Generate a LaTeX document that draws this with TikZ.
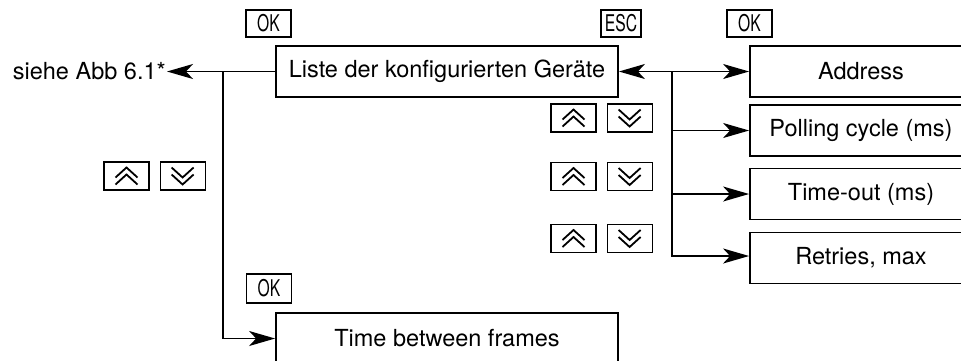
\documentclass[tikz,border=0pt]{standalone}
\usepackage{fontspec}
\setmainfont{TeX Gyre Heros}
\newfontfamily\keyfont[FakeStretch=0.68]{TeX Gyre Heros}
\usetikzlibrary{positioning}
\usetikzlibrary{arrows.meta}
\tikzstyle{menu}=[draw, line width=1.8pt, minimum height=51pt, inner sep=0pt, font=\fontsize{23.5}{28}\selectfont]
\tikzstyle{wide}=[menu, minimum width=342pt]
\tikzstyle{param}=[menu, minimum width=222pt]
\tikzstyle{key}=[draw, line width=1.1pt, minimum height=27pt, minimum width=45pt, inner sep=0pt, font=\keyfont\fontsize{23}{26}\selectfont]
\tikzstyle{keyup}=[key, minimum height=28pt, path picture={
    \draw[shift={(path picture bounding box.center)}, line width=1.8pt]
      (-11pt,-1.5pt) -- (0pt,8.5pt) -- (11pt,-1.5pt) (-11pt,-8.5pt) -- (0pt,1.5pt) -- (11pt,-8.5pt);}]
\tikzstyle{keydown}=[key, minimum height=28pt, path picture={
    \draw[shift={(path picture bounding box.center)}, line width=1.8pt]
      (-11pt,1.5pt) -- (0pt,-8.5pt) -- (11pt,1.5pt) (-11pt,8.5pt) -- (0pt,-1.5pt) -- (11pt,8.5pt);}]
\tikzstyle{link}=[-{Stealth[length=26pt,width=15pt,inset=7pt]}, line width=1.6pt]
\tikzstyle{twoway}=[{Stealth[length=26pt,width=15pt,inset=7pt]}-{Stealth[length=26pt,width=15pt,inset=7pt]}, line width=1.6pt]

\begin{document}
\begin{tikzpicture}[x=1pt, y=-1pt, node distance=10pt]
    \useasboundingbox (0,0) rectangle (961,360);

    \node[wide]  (list)    at (447,71.5)  {Liste der konfigurierten Geräte};
    \node[wide]  (tbf)     at (447,338.5) {Time between frames};
    \node[anchor=east, inner sep=1pt, font=\fontsize{23.5}{28}\selectfont] (siehe) at (167,71.5) {siehe Abb 6.1*};

    \node[param] (address) at (861,71.5)  {Address};
    \node[param] (polling) at (861,130.5) {Polling cycle (ms)};
    \node[param] (timeout) at (861,194)   {Time-out (ms)};
    \node[param] (retries) at (861,258)   {Retries, max};

    \node[key]                      (okA) at (268.5,23.5) {OK};
    \node[key, minimum width=40pt]  (esc) at (621,23.5)   {ESC};
    \node[key]                      (okB) at (749.5,23.5) {OK};
    \node[key, minimum height=29pt] (okC) at (269,288.5)  {OK};

    \node[keyup]   (upL)   at (126.5,176) {};
    \node[keydown] (downL) [right = of upL] {};
    \node[keyup]   (up1)   at (573.5,118)   {};
    \node[keydown] (down1) [right = of up1] {};
    \node[keyup]   (up2)   at (573.5,176.5) {};
    \node[keydown] (down2) [right = of up2] {};
    \node[keyup]   (up3)   at (573.5,238.5) {};
    \node[keydown] (down3) [right = of up3] {};

    \coordinate (jl) at (223,71.5);
    \coordinate (jr) at (672,71.5);

    \draw[link]   (list.west) -- (siehe.east);
    \draw[link]   (jl) |- (tbf.west);
    \draw[twoway] (list.east) -- (address.west);
    \draw[link]   (jr) |- (polling.west);
    \draw[link]   (jr) |- (timeout.west);
    \draw[link]   (jr) |- ([yshift=2pt]retries.west);
\end{tikzpicture}
\end{document}
